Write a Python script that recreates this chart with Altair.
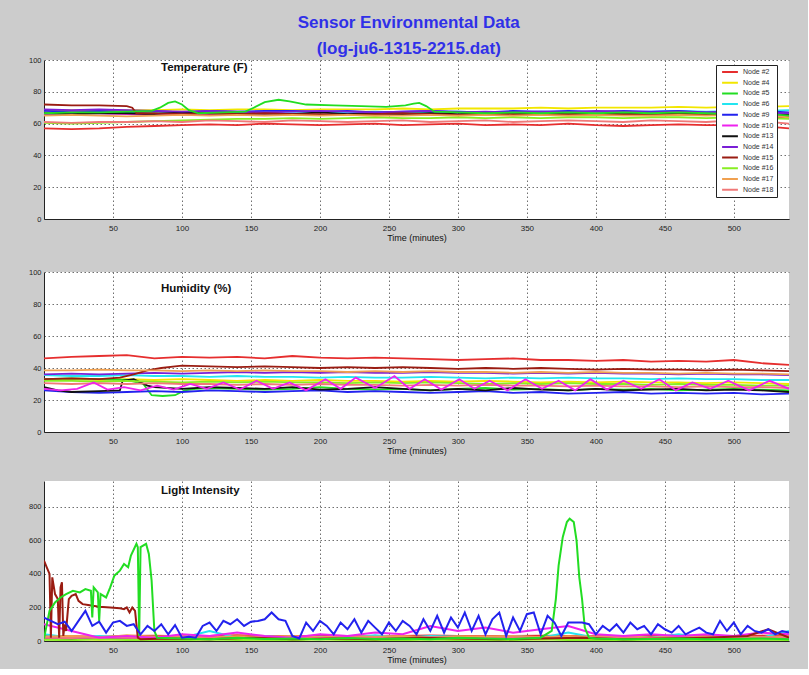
import altair as alt
import pandas as pd

NODES = ["Node #2", "Node #4", "Node #5", "Node #6", "Node #9", "Node #10",
         "Node #13", "Node #14", "Node #15", "Node #16", "Node #17", "Node #18"]
COLORS = ["#e62e2e", "#f2e600", "#22dd22", "#22e5f0", "#2222ee", "#ee22ee",
          "#111111", "#7a1fd6", "#9a1c12", "#88ee22", "#f0a050", "#f07878"]

T20 = list(range(0, 541, 20))
T5 = list(range(0, 541, 5))
X_TICKS = [50, 100, 150, 200, 250, 300, 350, 400, 450, 500]

# ---------------- Temperature (F) ----------------
TEMP_2 = [57, 56.5, 57, 58, 58.5, 59, 59.5, 59, 60, 59.5, 59, 59.5, 60, 59, 59.5, 60, 59, 59.5, 59, 60, 59, 58.5, 59, 59.5, 59, 59, 58.5, 57]
TEMP_4 = [68, 68.5, 68, 68.5, 68.5, 69, 68.5, 69, 69, 68.5, 69, 69, 69, 69.5, 69, 69.5, 69.5, 69.5, 70, 69.5, 70, 70, 70, 70.5, 70, 70.5, 70.5, 71]
T_TEMP_5 = [0, 20, 40, 60, 78, 84, 90, 95, 100, 105, 112, 130, 146, 152, 160, 170, 178, 190, 210, 230, 248, 262, 268, 272, 277, 283, 300, 320, 340, 360, 380, 400, 420, 440, 460, 480, 500, 520, 540]
TEMP_5 = [66.5, 67, 67, 67.5, 68, 70, 73, 74, 72, 68.5, 66.5, 67, 67.5, 70, 73.5, 75, 74, 72, 71.5, 71, 70.5, 71.5, 72.5, 73, 71, 67.5, 67, 66.5, 67, 66.5, 67, 66.5, 67, 66.5, 67, 66.5, 66, 66.5, 65]
TEMP_6 = [66, 66.5, 67, 67, 66.5, 67, 67.5, 67, 67, 67.5, 67, 67, 67.5, 67, 67, 67.5, 67, 67, 67.5, 67, 67.5, 67, 67.5, 68, 67.5, 68, 68, 68.5]
TEMP_9 = [68, 67.5, 68, 67.5, 68, 67, 68, 67.5, 68, 68, 67.5, 68, 67, 67.5, 68, 67.5, 67, 68, 67.5, 68, 67.5, 68, 67.5, 68, 67, 67.5, 68, 67]
TEMP_10 = [66, 67, 66.5, 66, 65.5, 66, 65.5, 66, 66.5, 66, 65.5, 66, 66, 65.5, 66, 65.5, 66, 66, 65.5, 66, 66.5, 66, 65.5, 66, 66, 65.5, 66, 65]
TEMP_13 = [66.5, 66, 66.5, 66.5, 66, 67, 66.5, 66, 66.5, 66, 67, 66, 66.5, 66, 66.5, 66, 67, 66.5, 66, 66.5, 66, 66.5, 66, 66.5, 66, 66.5, 66, 66]
TEMP_14 = [69, 68.5, 69, 68.5, 68, 67.5, 68, 67.5, 67, 67.5, 68, 67.5, 67, 67.5, 68, 67, 67.5, 67, 67.5, 67, 68, 67.5, 67, 67.5, 67, 67.5, 67, 66.5]
T_TEMP_15 = [0, 20, 40, 60, 64, 67] + list(range(80, 541, 20))
TEMP_15 = [72, 71.5, 71.5, 71, 70, 66.5, 66.5, 66, 66.5, 66, 66.5, 66, 66, 65.5, 66, 66.5, 66, 65.5, 66, 66, 65.5, 66, 65.5, 66, 65.5, 66, 65.5, 65, 64.5, 64]
TEMP_16 = [60.5, 60, 60.5, 61, 61.5, 62, 62.5, 63, 63, 63.5, 63, 63.5, 64, 63.5, 63.5, 64, 63.5, 64, 63.5, 64, 64, 63.5, 64, 64, 63.5, 64, 63.5, 63]
TEMP_17 = [65, 65.5, 65, 64.5, 65, 65.5, 65, 65.5, 65, 65.5, 65, 65.5, 65, 65, 65.5, 65, 65.5, 65, 65.5, 65, 65.5, 65, 65, 65.5, 65, 65.5, 65, 64]
TEMP_18 = [61, 60.5, 61, 61, 61.5, 61, 62, 61.5, 61, 62, 61.5, 61, 61.5, 62, 61, 61.5, 62, 61, 61.5, 62, 61.5, 61, 62, 61.5, 61, 62, 61.5, 60]

# ---------------- Humidity (%) ----------------
HUM_2 = [46, 47, 47.5, 48, 46, 47, 46.5, 47, 46, 47.5, 46.5, 46, 46.5, 46, 45.5, 45, 45.5, 46, 45, 45, 44.5, 45, 44, 44.5, 44, 45, 43, 42]
HUM_4 = [33, 33, 32.5, 33, 32.5, 33, 32.5, 32, 32.5, 32, 32.5, 32, 32, 31.5, 32, 31.5, 32, 31.5, 31, 31.5, 31, 31.5, 31, 31, 30.5, 31, 30.5, 30]
T_HUM_5 = [0, 20, 40, 60, 72, 78, 86, 95, 102, 110] + list(range(120, 541, 20))
HUM_5 = [33, 33.5, 33, 32.5, 30, 23, 22.5, 23, 26, 27, 27.5, 27, 26.5, 27, 28, 27, 26.5, 27, 26, 27, 27.5, 26.5, 27, 26, 27, 26.5, 27, 26, 26.5, 27, 26.5, 26]
HUM_6 = [35.5, 35, 35, 35.5, 35, 35, 34.5, 35, 34.5, 34.5, 34, 34.5, 34, 34, 34.5, 34, 33.5, 34, 33.5, 34, 33.5, 33.5, 33, 33.5, 33, 33, 32.5, 32.5]
HUM_9 = [26, 25, 24.5, 25, 25.5, 25, 26, 25.5, 25, 25.5, 26, 25, 25.5, 25, 24.5, 25, 25.5, 24.5, 25, 24, 24.5, 25, 24, 24.5, 24, 24.5, 23.5, 24]
T_HUM_10 = [0, 12, 24, 36, 46, 58, 70, 82, 94, 106, 118, 130, 142, 154, 166, 178, 190, 204, 215, 226, 240, 254, 265, 276, 288, 301, 312, 323, 336, 349, 361, 373, 385, 396, 408, 420, 433, 446, 458, 470, 483, 496, 511, 526, 540]
HUM_10 = [27, 26, 27, 31, 26.5, 28, 26, 29, 26.5, 30, 27, 31, 26.5, 32, 27, 31, 26, 33, 27, 34, 27.5, 35, 27, 33, 26.5, 33, 27, 32, 26, 33, 27, 32, 26, 33, 26.5, 32, 27, 33, 26, 31, 27, 32, 26, 32, 27]
T_HUM_13 = [0, 10, 20, 40, 55, 57, 65, 75] + list(range(80, 541, 20))
HUM_13 = [28, 26, 25, 25.5, 26, 32, 33, 29, 28, 27, 28, 27.5, 27, 28, 26.5, 27, 28, 27, 26, 27, 26, 27.5, 26.5, 26, 27, 26, 26.5, 27, 26, 26.5, 26, 25]
HUM_14 = [36, 36.5, 36, 36.5, 37, 36.5, 37, 37.5, 37, 37.5, 37, 37.5, 37, 37, 37.5, 37, 37, 36.5, 37, 36.5, 37, 36.5, 36.5, 36, 36.5, 36, 36, 35.5]
T_HUM_15 = [0, 20, 40, 55, 65, 75, 85, 95] + list(range(100, 541, 20))
HUM_15 = [33, 33.5, 33, 34, 36, 38.5, 40, 41, 41.5, 41, 40.5, 41, 40.5, 40, 40.5, 40, 40.5, 40, 39.5, 40, 39.5, 40, 39.5, 39, 39.5, 39, 39, 38.5, 39, 38.5, 38]
HUM_16 = [32, 32, 31.5, 32, 31.5, 31, 31.5, 31, 31.5, 31, 31, 30.5, 31, 30.5, 31, 30.5, 30, 30.5, 30, 30.5, 30, 30, 29.5, 30, 29.5, 29.5, 29, 29]
HUM_17 = [38.5, 38.5, 39, 38.5, 38.5, 38, 38.5, 38, 38.5, 38, 38, 37.5, 38, 37.5, 38, 37.5, 37.5, 37, 37.5, 37, 37.5, 37, 37, 36.5, 37, 36.5, 36.5, 36]
HUM_18 = [30.5, 30, 30.5, 30, 30.5, 30, 30, 29.5, 30, 29.5, 30, 29.5, 29.5, 29, 29.5, 29, 29.5, 29, 29, 28.5, 29, 28.5, 28.5, 28, 28.5, 28, 28, 27.5]

# ---------------- Light Intensity ----------------
LIGHT_2 = [30, 28, 25, 30, 32, 28, 30, 35, 30, 28, 32, 30, 28, 30, 33, 30, 28, 30, 32, 30, 28, 30, 32, 30, 28, 30, 32, 35]
LIGHT_4 = [10, 12, 8, 10, 12, 9, 11, 10, 8, 12, 10, 9, 11, 10, 12, 8, 10, 11, 9, 12, 10, 8, 11, 10, 12, 9, 10, 11]
T_LIGHT_5 = ([0, 4, 8, 12, 16, 21, 26, 30, 34, 35, 36, 39, 40, 41, 45, 48, 51, 55, 58, 61, 63, 67, 68, 69, 70, 74, 76, 78, 80, 82]
             + [100, 120, 140, 160, 180, 200, 220, 240, 260, 280, 300, 320, 340, 360]
             + [368, 371, 373, 376, 379, 381, 384, 386, 388, 390, 392, 395]
             + [400, 420, 440, 460, 480, 500, 520, 540])
LIGHT_5 = ([15, 180, 230, 260, 280, 300, 290, 310, 300, 140, 320, 290, 120, 280, 260, 320, 390, 420, 460, 440, 510, 580, 560, 30, 560, 580, 520, 360, 60, 20]
           + [15, 10, 20, 12, 15, 10, 18, 12, 15, 10, 20, 15, 12, 20]
           + [60, 250, 450, 620, 710, 730, 710, 600, 380, 250, 80, 20]
           + [15, 10, 12, 15, 10, 12, 15, 10])
LIGHT_6 = [40, 20, 30, 20, 25, 20, 60, 20, 30, 20, 25, 20, 35, 20, 30, 25, 20, 30, 20, 50, 20, 30, 20, 40, 20, 30, 20, 60]
LIGHT_9 = [140, 120, 100, 115, 60, 120, 180, 90, 115, 50,
           110, 120, 90, 100, 40, 90, 60, 100, 40, 95,
           20, 25, 20, 90, 110, 60, 120, 100, 130, 90,
           115, 120, 130, 170, 130, 120, 30, 15, 110, 60,
           120, 90, 40, 110, 70, 130, 50, 120, 80, 40,
           110, 60, 120, 90, 40, 130, 60, 150, 50, 140,
           80, 170, 60, 150, 40, 130, 170, 30, 140, 60,
           160, 170, 40, 150, 110, 30, 110, 110, 110, 100,
           40, 90, 60, 100, 50, 110, 70, 90, 40, 100,
           70, 50, 90, 40, 60, 80, 50, 40, 120, 60,
           110, 40, 90, 60, 50, 70, 40, 60, 50]
LIGHT_10 = [100, 60, 20, 30, 20, 40, 30, 50, 30, 20, 40, 30, 50, 40, 90, 60, 80, 50, 70, 90, 40, 30, 40, 30, 40, 30, 50, 40]
LIGHT_13 = [15, 10, 20, 12, 15, 10, 18, 12, 15, 10, 14, 12, 16, 10, 15, 12, 10, 14, 12, 15, 10, 12, 14, 10, 12, 15, 10, 12]
LIGHT_14 = [20, 15, 18, 12, 15, 20, 14, 16, 12, 18, 15, 14, 16, 12, 18, 15, 14, 12, 16, 15, 14, 12, 15, 14, 16, 12, 14, 15]
T_LIGHT_15 = ([0, 2, 4, 5, 6, 8, 10, 11, 12, 13, 14, 15, 16, 18, 20, 23, 25, 28, 32, 40, 48, 55, 58, 60, 62, 64, 66, 68, 70]
              + [90, 120, 150, 180, 210, 240, 270, 300, 330, 360, 390, 420, 450, 480, 510, 525, 540])
LIGHT_15 = ([480, 440, 400, 20, 380, 280, 250, 20, 320, 350, 30, 100, 60, 250, 270, 280, 240, 220, 215, 205, 200, 195, 190, 200, 170, 200, 180, 20, 10]
            + [15, 10, 20, 10, 15, 10, 20, 15, 10, 15, 20, 10, 15, 20, 30, 70, 20])
LIGHT_16 = [8, 5, 10, 6, 8, 5, 9, 6, 8, 5, 10, 6, 8, 5, 9, 6, 8, 5, 10, 6, 8, 5, 9, 6, 8, 5, 7, 6]
LIGHT_17 = [25, 30, 20, 35, 25, 30, 20, 28, 25, 30, 22, 28, 25, 30, 20, 28, 25, 30, 22, 28, 25, 30, 20, 28, 25, 30, 22, 28]
LIGHT_18 = [20, 18, 22, 20, 18, 22, 20, 18, 22, 20, 18, 22, 20, 18, 22, 20, 18, 22, 20, 18, 22, 20, 18, 22, 20, 18, 22, 20]

TEMP_SERIES = [("Node #2", T20, TEMP_2), ("Node #4", T20, TEMP_4), ("Node #6", T20, TEMP_6),
               ("Node #9", T20, TEMP_9), ("Node #10", T20, TEMP_10), ("Node #13", T20, TEMP_13),
               ("Node #14", T20, TEMP_14), ("Node #15", T_TEMP_15, TEMP_15), ("Node #16", T20, TEMP_16),
               ("Node #17", T20, TEMP_17), ("Node #18", T20, TEMP_18), ("Node #5", T_TEMP_5, TEMP_5)]
HUM_SERIES = [("Node #2", T20, HUM_2), ("Node #4", T20, HUM_4), ("Node #5", T_HUM_5, HUM_5),
              ("Node #6", T20, HUM_6), ("Node #9", T20, HUM_9), ("Node #13", T_HUM_13, HUM_13),
              ("Node #14", T20, HUM_14), ("Node #15", T_HUM_15, HUM_15), ("Node #16", T20, HUM_16),
              ("Node #17", T20, HUM_17), ("Node #18", T20, HUM_18), ("Node #10", T_HUM_10, HUM_10)]
LIGHT_SERIES = [("Node #2", T20, LIGHT_2), ("Node #4", T20, LIGHT_4), ("Node #6", T20, LIGHT_6),
                ("Node #13", T20, LIGHT_13), ("Node #14", T20, LIGHT_14), ("Node #16", T20, LIGHT_16),
                ("Node #17", T20, LIGHT_17), ("Node #18", T20, LIGHT_18), ("Node #10", T20, LIGHT_10),
                ("Node #15", T_LIGHT_15, LIGHT_15), ("Node #5", T_LIGHT_5, LIGHT_5), ("Node #9", T5, LIGHT_9)]


def frame(series):
    rows = []
    for k, (node, ts, vs) in enumerate(series):
        for t, v in zip(ts, vs):
            rows.append({"t": t, "v": v, "node": node, "k": k})
    return pd.DataFrame(rows)


FONT = "Liberation Sans"
W = 745
PADSTR = "\u00a0" * 16


def panel(series, title, ydomain, yticks, height, title_y, show_legend, sw):
    df = frame(series)
    xax = alt.Axis(values=X_TICKS, title="Time (minutes)", labelFontSize=8, titleFontSize=9,
                   titleFontWeight="normal", ticks=False, grid=True, gridDash=[1.5, 2.5],
                   gridColor="#6f6f6f", domainColor="#222", labelPadding=5, titlePadding=1,
                   labelColor="#222", titleColor="#111", labelFont=FONT, titleFont=FONT)
    yax = alt.Axis(values=yticks, title=None, labelFontSize=7.5, ticks=False, grid=True,
                   gridDash=[1.5, 2.5], gridColor="#6f6f6f", domainColor="#222", labelPadding=3,
                   labelColor="#222", labelFont=FONT)
    if show_legend:
        leg = alt.Legend(title=None, orient="none", legendX=672, legendY=5, fillColor="white",
                         strokeColor="#222", padding=3, symbolType="stroke", symbolStrokeWidth=2,
                         symbolSize=250, labelFontSize=7, labelFont=FONT, labelColor="#333",
                         clipHeight=8, rowPadding=2.7, symbolOffset=2, labelOffset=4,
                         labelLimit=200,
                         labelExpr="datum.label + '" + PADSTR + "'")
    else:
        leg = None
    lines = alt.Chart(df).mark_line(strokeWidth=sw, clip=True).encode(
        x=alt.X("t:Q", scale=alt.Scale(domain=[0, 540], nice=False, zero=False), axis=xax),
        y=alt.Y("v:Q", scale=alt.Scale(domain=ydomain, nice=False), axis=yax),
        color=alt.Color("node:N", scale=alt.Scale(domain=NODES, range=COLORS), legend=leg),
        detail="k:N",
    )
    label = alt.Chart(pd.DataFrame({"label": [title]})).mark_text(
        align="left", baseline="middle", fontSize=11.5, fontWeight="bold", font=FONT, color="#111"
    ).encode(x=alt.value(117), y=alt.value(title_y), text="label:N")
    return alt.layer(lines, label).properties(width=W, height=height)


p1 = panel(TEMP_SERIES, "Temperature (F)", [0, 100], [0, 20, 40, 60, 80, 100], 159, 8, True, 1.8)
p2 = panel(HUM_SERIES, "Humidity (%)", [0, 100], [0, 20, 40, 60, 80, 100], 160, 17, False, 1.8)
p3 = panel(LIGHT_SERIES, "Light Intensity", [0, 955], [0, 200, 400, 600, 800], 160, 10, False, 2)

chart = alt.vconcat(p1, p2, p3, spacing=26).resolve_scale(color="independent").properties(
    title=alt.TitleParams(text=["Sensor Environmental Data", "(log-ju6-1315-2215.dat)"],
                          fontSize=17, fontWeight="bold", color="#3030e8", font=FONT,
                          anchor="middle", lineHeight=26, offset=-2),
    padding={"left": 28, "top": 14, "right": 19, "bottom": 5},
    background="#cccccc",
).configure_view(stroke=None, fill="white")

chart.save("out.html", embed_options={"renderer": "svg", "actions": False})
